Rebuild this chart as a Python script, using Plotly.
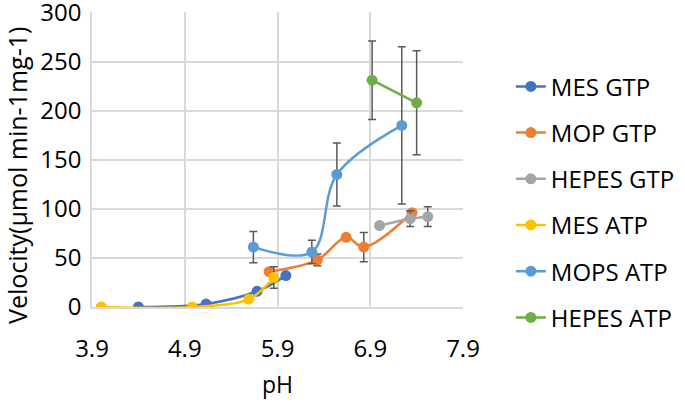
import plotly.graph_objects as go

# Data
mes_gtp_ph = [4.4, 5.13, 5.68, 5.99]
mes_gtp_v = [0, 3, 16, 32]

mop_gtp_ph = [5.81, 6.33, 6.64, 6.83, 7.35]
mop_gtp_v = [36, 48, 71, 61, 96]
mop_gtp_err = [0, 6, 0, 15, 0]

hepes_gtp_ph = [7.0, 7.33, 7.52]
hepes_gtp_v = [83, 90, 92]
hepes_gtp_err = [0, 8, 10]

mes_atp_ph = [4.0, 4.98, 5.59, 5.86]
mes_atp_v = [0, 0, 8, 30]
mes_atp_err = [0, 0, 0, 11]

mops_atp_ph = [5.64, 6.27, 6.54, 7.24]
mops_atp_v = [61, 56, 135, 185]
mops_atp_err = [16, 12, 32, 80]

hepes_atp_ph = [6.92, 7.40]
hepes_atp_v = [231, 208]
hepes_atp_err = [40, 53]

x_ticks = [3.9, 4.9, 5.9, 6.9, 7.9]
y_ticks = [0, 50, 100, 150, 200, 250, 300]

series = [
    ("MES GTP", mes_gtp_ph, mes_gtp_v, None, "#4472C4"),
    ("MOP GTP", mop_gtp_ph, mop_gtp_v, mop_gtp_err, "#ED7D31"),
    ("HEPES GTP", hepes_gtp_ph, hepes_gtp_v, hepes_gtp_err, "#A5A5A5"),
    ("MES ATP", mes_atp_ph, mes_atp_v, mes_atp_err, "#FFC000"),
    ("MOPS ATP", mops_atp_ph, mops_atp_v, mops_atp_err, "#5B9BD5"),
    ("HEPES ATP", hepes_atp_ph, hepes_atp_v, hepes_atp_err, "#70AD47"),
]

fig = go.Figure()
for i, (name, xs, ys, err, col) in enumerate(series):
    kw = {}
    if err is not None:
        kw["error_y"] = dict(type="data", array=err, visible=True,
                             color="#595959", thickness=1.5, width=4)
    fig.add_trace(go.Scatter(
        x=xs, y=ys, name=name, mode="lines+markers",
        line=dict(color=col, width=2.5, shape="spline"),
        marker=dict(color=col, size=11),
        legendgroup=f"g{i}",
        **kw,
    ))

font_family = "Open Sans, Liberation Sans, sans-serif"
fig.update_layout(
    width=685, height=405,
    margin=dict(l=92, r=222, t=12, b=98, autoexpand=False),
    paper_bgcolor="white", plot_bgcolor="white",
    font=dict(family=font_family, size=24, color="#000000"),
    showlegend=True,
    legend=dict(x=1.129, xanchor="left", y=0.355, yanchor="middle",
                font=dict(size=24), tracegroupgap=12,
                traceorder="grouped", bgcolor="rgba(0,0,0,0)",
                maxheight=400),
    xaxis=dict(range=[3.9, 7.9], tickvals=x_ticks,
               ticktext=[f"{v:.1f}" for v in x_ticks],
               showgrid=True, gridcolor="#D9D9D9", gridwidth=1.5,
               zeroline=False, showline=True, linecolor="#D9D9D9",
               linewidth=1.5, ticks="", ticklen=0,
               ticklabelstandoff=19, ticklabeloverflow="allow",
               title=dict(text="pH", standoff=14, font=dict(size=23)),
               tickfont=dict(size=24)),
    yaxis=dict(range=[0, 300.5], tickvals=y_ticks,
               showgrid=True, gridcolor="#D9D9D9", gridwidth=1.5,
               zeroline=False, showline=True, linecolor="#D9D9D9",
               linewidth=1.5, ticks="", ticklabelstandoff=4,
               ticklabeloverflow="allow",
               tickfont=dict(size=24)),
    annotations=[dict(
        text="Velocity(μmol min-1mg-1)", textangle=-90,
        xref="paper", yref="paper",
        x=(17 - 92) / 371, y=(307 - 176) / 295,
        xanchor="center", yanchor="middle", showarrow=False,
        font=dict(size=25),
    )],
)

fig.write_html("out.html", config={"displayModeBar": False},
               post_script="document.body.style.margin='0';")
